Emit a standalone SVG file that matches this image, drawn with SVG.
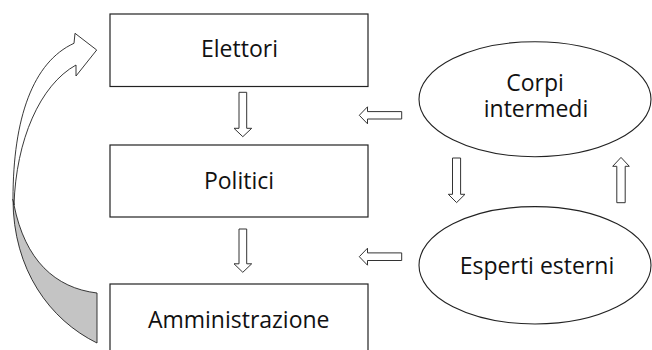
<svg xmlns="http://www.w3.org/2000/svg" width="652" height="350" viewBox="0 0 652 350">
<style>
.box{fill:#fff;stroke:#222;stroke-width:1.2}
.ell{fill:#fff;stroke:#222;stroke-width:1.1}
.blk{fill:#fff;stroke:#333;stroke-width:1}
.lbl{font-family:"Open Sans","Noto Sans",sans-serif;font-size:23px;fill:#111;text-anchor:middle}
.rib{stroke:#222;stroke-width:0.9;stroke-linejoin:round}
</style>
<g id="Elettori">
<rect class="box" x="110" y="14" width="258" height="72.5"/>
<text class="lbl" x="239.5" y="57.3">Elettori</text>
</g>
<g id="Politici">
<rect class="box" x="110" y="145" width="258" height="72"/>
<text class="lbl" x="239" y="188.5">Politici</text>
</g>
<g id="Amministrazione">
<rect class="box" x="110" y="284" width="258" height="72"/>
<text class="lbl" x="238.7" y="328.3">Amministrazione</text>
</g>
<g id="CorpiIntermedi">
<ellipse class="ell" cx="535" cy="99.2" rx="116" ry="57.5"/>
<text class="lbl"><tspan x="535" y="90.7">Corpi</tspan><tspan x="536" y="116.7">intermedi</tspan></text>
</g>
<g id="EspertiEsterni">
<ellipse class="ell" cx="535" cy="265.3" rx="116" ry="58.7"/>
<text class="lbl" x="537" y="274.3">Esperti esterni</text>
</g>
<g id="connectors">
<polygon class="blk" points="239,92.3 246.7,92.3 246.7,128.3 251.7,128.3 242.8,136.7 234,128.3 239,128.3"/>
<polygon class="blk" points="239,229 246.7,229 246.7,263.8 251.7,263.8 242.8,272.3 234,263.8 239,263.8"/>
<polygon class="blk" points="401.7,111.6 367.5,111.6 367.5,106.8 359.3,115.3 367.5,123.8 367.5,119 401.7,119"/>
<polygon class="blk" points="401.7,252.9 367.5,252.9 367.5,248.2 359.3,256.7 367.5,265.2 367.5,260.5 401.7,260.5"/>
<polygon class="blk" points="452.5,158 460.6,158 460.6,194.3 465,194.3 456.6,202.6 448.3,194.3 452.5,194.3"/>
<polygon class="blk" points="616.8,202.7 625.2,202.7 625.2,166.3 629.3,166.3 621,157.4 612.7,166.3 616.8,166.3"/>
<path class="rib" fill="#c4c4c4" d="M13,199 C13,270 50,320 97,343 L97,293 C55,288 25,260 14,205 Z"/>
<path class="rib" fill="#fff" d="M74,43.3 C33,62 13,118 13,199 L14,205 C16,140 40,85 76,65 L76,76 L96.7,50 L75,33.3 Z"/>
</g>
</svg>
